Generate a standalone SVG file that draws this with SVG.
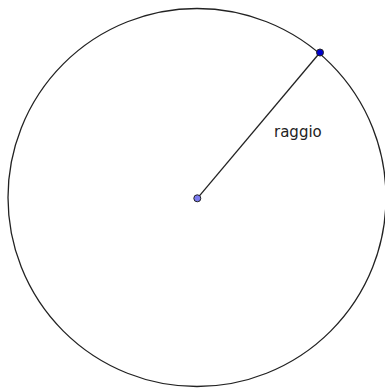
<svg xmlns="http://www.w3.org/2000/svg" width="385" height="389" viewBox="0 0 385 389">
<style>
.circ{fill:none;stroke:#222;stroke-width:1.3}
.seg{stroke:#222;stroke-width:1.3}
.lbl{font-family:"DejaVu Sans",sans-serif;font-size:15px;fill:#222}
.pt{stroke:#222;stroke-width:1}
</style>
<rect width="385" height="389" fill="#fff"/>
<g id="circle"><circle class="circ" cx="197" cy="197.5" r="189"/></g>
<g id="connectors"><line class="seg" x1="197.3" y1="198.3" x2="320" y2="52.5"/></g>
<g id="label"><text class="lbl" x="274" y="137">raggio</text></g>
<g id="center"><circle class="pt" cx="197.3" cy="198.3" r="3.5" fill="#7b7bf0"/></g>
<g id="point"><circle class="pt" cx="320" cy="52.5" r="3.5" fill="#0000cc"/></g>
</svg>
